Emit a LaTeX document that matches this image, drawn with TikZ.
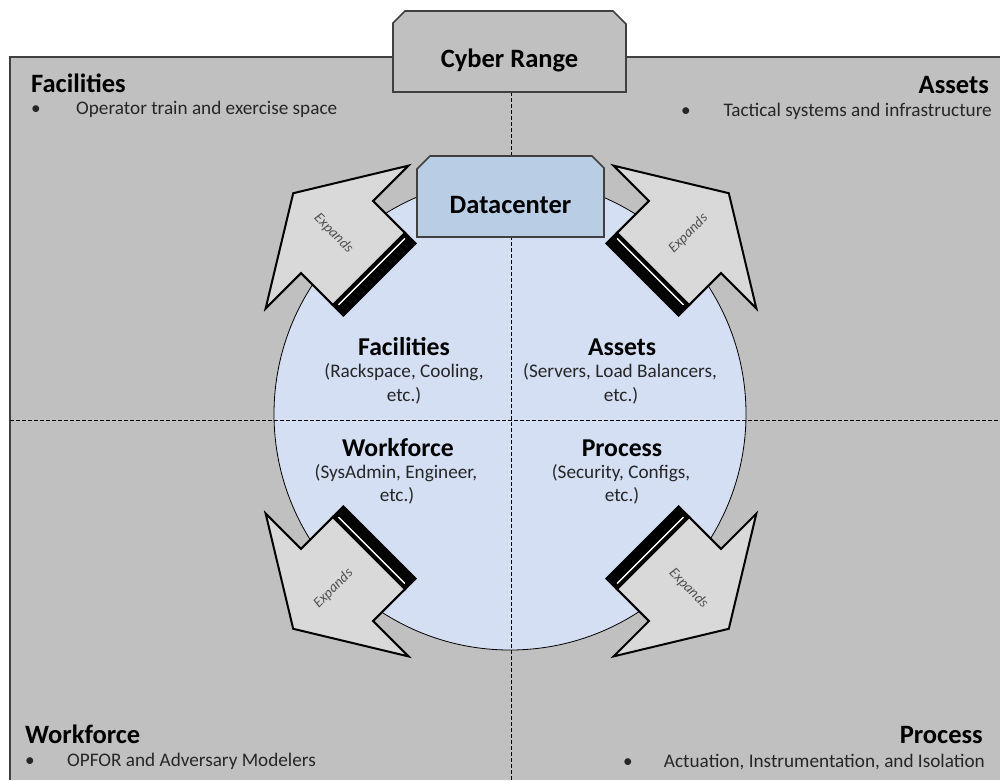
\documentclass[tikz,border=0pt]{standalone}
\usepackage{fontspec}
\setmainfont{Carlito}
\definecolor{bggray}{HTML}{C0C0C0}
\definecolor{dcblue}{HTML}{B9CDE5}
\definecolor{circblue}{HTML}{D4DFF3}
\definecolor{arrowfill}{HTML}{D9D9D9}
\definecolor{edgegray}{HTML}{404040}
\definecolor{textgray}{HTML}{505050}
\begin{document}
\begin{tikzpicture}[x=1pt,y=-1pt,
  heading/.style={font=\fontsize{26.5}{30}\selectfont\bfseries, inner sep=0pt, text=black},
  body/.style={font=\fontsize{19.2}{22}\selectfont, inner sep=0pt, text=black!85},
  inhead/.style={font=\fontsize{25.7}{28}\selectfont\bfseries, inner sep=0pt, anchor=base},
  indetail/.style={font=\fontsize{19.2}{22}\selectfont, inner sep=0pt, anchor=base, text=black!85},
  divider/.style={black, line width=0.8pt, dash pattern=on 3.5pt off 2.5pt},
  tabshape/.style={draw=edgegray, line width=1.6pt, line join=miter},
  arrowbody/.style={fill=arrowfill, draw=black, line width=2pt, line join=miter, miter limit=10},
  exptext/.style={font=\fontsize{14.5}{16}\selectfont\itshape, text=textgray, inner sep=0pt}
]
\useasboundingbox (0,0) rectangle (1000,780);
% background panel
\fill[bggray] (10,57) rectangle (1000,780);
\draw[edgegray, line width=1.5pt] (10,780) -- (10,57) -- (1000,57);

% central circle
\node[circle, fill=circblue, draw=black, line width=0.8pt, minimum size=472pt, inner sep=0pt] (ring) at (510,414) {};

% dividers
\coordinate (vtop) at (511,92);
\coordinate (vbot) at (511,780);
\coordinate (hleft) at (10,420);
\coordinate (hright) at (1000,420);
\draw[divider] (vtop) -- (vbot);
\draw[divider] (hleft) -- (hright);

% expand arrows
\foreach \ang/\trot [count=\k] in {135/-45, 45/45, 225/45, 315/-45}{
  \begin{scope}[shift={(511,411)}, rotate=\ang]
    \fill[black] (185,-52) rectangle (203,52);
    \draw[arrowbody] (201,51) -- (246,51) -- (246,101) -- (308,0) -- (246,-101) -- (246,-51) -- (201,-51) -- cycle;
    \draw[white, line width=1.5pt] (197,-47) -- (197,47);
    \node[exptext, rotate=\trot] (exp\k) at (251,0) {Expands};
  \end{scope}
}

% datacenter tab
\draw[tabshape, fill=dcblue] (417,237) -- (417,169) -- (430,156) -- (592,156) -- (604,168) -- (604,237) -- cycle;
\node[heading, anchor=base] (dc) at (510.5,213) {Datacenter};

% cyber range tab
\draw[tabshape, fill=bggray] (393,92) -- (393,23) -- (405,11) -- (613,11) -- (626,24) -- (626,92) -- cycle;
\node[heading, anchor=base] (cr) at (509.5,67) {Cyber Range};

% outer corner texts
\node[heading, anchor=base west] (facT) at (31,92) {Facilities};
\node[body, anchor=base west] (facB) at (31,114) {\textbullet};
\node[body, anchor=base west] (facD) at (76,114) {Operator train and exercise space};

\node[heading, anchor=base east] (astT) at (989,93) {Assets};
\node[body, anchor=base west] (astB) at (681,116) {\textbullet};
\node[body, anchor=base east] (astD) at (992,116) {Tactical systems and infrastructure};

\node[heading, anchor=base west] (wfT) at (25,743) {Workforce};
\node[body, anchor=base west] (wfB) at (25,766) {\textbullet};
\node[body, anchor=base west] (wfD) at (67,766) {OPFOR and Adversary Modelers};

\node[heading, anchor=base east] (prT) at (983,743) {Process};
\node[body, anchor=base west] (prB) at (623,767) {\textbullet};
\node[body, anchor=base east] (prD) at (985,767) {Actuation, Instrumentation, and Isolation};

% inner quadrant texts
\node[inhead] (ifac) at (404,355) {Facilities};
\node[indetail] (ifac1) at (404,377) {(Rackspace, Cooling,};
\node[indetail] (ifac2) at (404,401) {etc.)};

\node[inhead] (iast) at (622,355) {Assets};
\node[indetail] (iast1) at (620,377) {(Servers, Load Balancers,};
\node[indetail] (iast2) at (621,401) {etc.)};

\node[inhead] (iwf) at (398,456) {Workforce};
\node[indetail] (iwf1) at (396,478) {(SysAdmin, Engineer,};
\node[indetail] (iwf2) at (397,501) {etc.)};

\node[inhead] (ipr) at (622,456) {Process};
\node[indetail] (ipr1) at (621,478) {(Security, Configs,};
\node[indetail] (ipr2) at (622,501) {etc.)};
\end{tikzpicture}
\end{document}
